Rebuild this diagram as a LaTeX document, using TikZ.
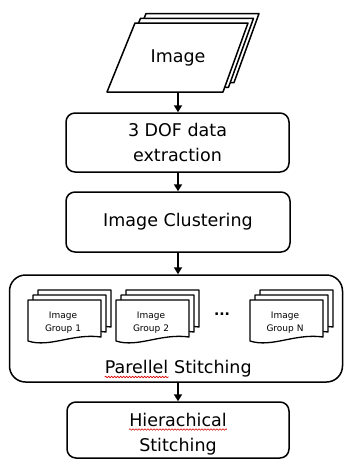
\documentclass[tikz,border=0pt]{standalone}
\usepackage{fontspec}
\setmainfont{DejaVu Sans}
\usetikzlibrary{arrows.meta,decorations.pathmorphing}

% one stacked sheet with a wavy bottom edge; #1,#2 = top-left corner
\newcommand\docsheet[2]{%
  \draw[sheet] (#1,#2) -- ({#1+73},#2) -- ({#1+73},{#2+37})
    .. controls ({#1+45},{#2+33}) and ({#1+22},{#2+48}) .. (#1,{#2+41}) -- cycle;}

\begin{document}
\begin{tikzpicture}[x=1pt,y=-1pt,line join=round,
  box/.style={draw,line width=1.5pt,rounded corners=9pt,fill=white,inner sep=0pt},
  big/.style={font=\fontsize{17.5}{25}\selectfont},
  small/.style={font=\fontsize{9}{13}\selectfont,align=center,inner sep=0pt},
  flow/.style={line width=2pt,-{Triangle[width=8pt,length=7pt]}},
  sheet/.style={draw,line width=1.3pt,fill=white},
  spell/.style={red!85!black,line width=0.6pt,decorate,
    decoration={snake,amplitude=0.8pt,segment length=3pt}}]
\useasboundingbox (0,0) rectangle (344,459);

% input images: stacked parallelograms
\foreach \d in {2,1,0} {
  \draw[sheet,line width=1.5pt] ({135+5.5*\d},{23-4.7*\d}) -- ({248+5.5*\d},{23-4.7*\d})
    -- ({223+5.5*\d},{92-4.7*\d}) -- ({107+5.5*\d},{92-4.7*\d}) -- cycle;
}
\node[big,minimum height=69pt,inner sep=0pt] (img) at (178,57.5) {Image};

% processing steps
\node[box,big,align=center,minimum width=223pt,minimum height=59pt] (dof) at (177.5,142.5) {3 DOF data\\extraction};
\node[box,big,minimum width=224pt,minimum height=60pt] (clu) at (178,222) {Image Clustering};
\node[box,rounded corners=16pt,minimum width=333pt,minimum height=107pt] (par) at (176,328.5) {};
\node[box,minimum width=222pt,minimum height=56pt] (hier) at (178,430) {};

% image groups inside the parallel stage
\foreach \gx in {28,116,250} {
  \foreach \d in {2,1,0} { \docsheet{\gx+5*\d}{300-5*\d} }
}
\node[small] (g1) at (63,322.5) {Image\\Group 1};
\node[small] (g2) at (151,322.5) {Image\\Group 2};
\node[small] (gn) at (285,322.5) {Image\\Group N};
\node[inner sep=0pt,font=\fontsize{14}{14}\selectfont\bfseries] (dots) at (222,314) {...};

% stage labels
\node[big,anchor=base east,inner sep=0pt] (pw) at (168.5,373) {Parellel};
\node[big,anchor=base west,inner sep=0pt] (sw) at (174,373) {Stitching};
\node[big,anchor=base,inner sep=0pt] (hw) at (178,426) {Hierachical};
\node[big,anchor=base,inner sep=0pt] (hs) at (178,451) {Stitching};
\draw[spell] ([yshift=-4pt]pw.base west) -- ([yshift=-4pt]pw.base east);
\draw[spell] ([yshift=-3.5pt]hw.base west) -- ([yshift=-3.5pt]hw.base east);

% flow
\draw[flow] (img.south) -- (img.south |- dof.north);
\draw[flow] (dof.south -| clu.north) -- (clu.north);
\draw[flow] (clu.south) -- (clu.south |- par.north);
\draw[flow] (par.south -| hier.north) -- (hier.north);
\end{tikzpicture}
\end{document}
